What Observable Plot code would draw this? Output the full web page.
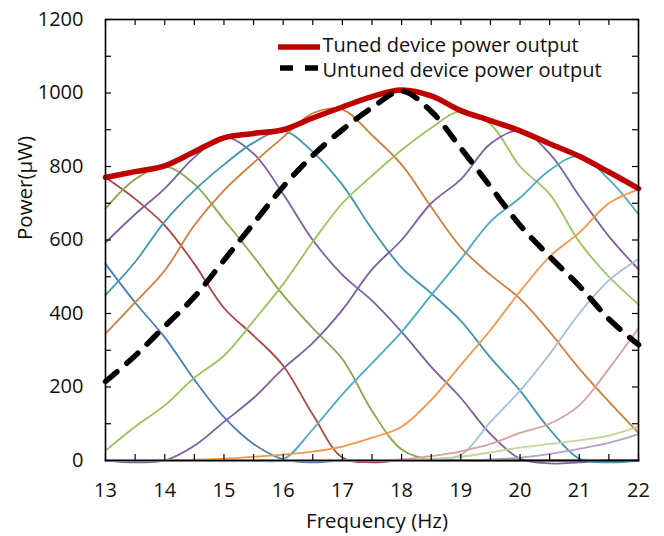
<!DOCTYPE html>
<html>
<head>
<meta charset="utf-8">
<script src="https://cdn.jsdelivr.net/npm/d3@7"></script>
<script src="https://cdn.jsdelivr.net/npm/@observablehq/plot@0.6"></script>
<style>
  html, body { margin: 0; padding: 0; background: #fff; }
  #chart { width: 664px; height: 536px; position: relative; }
</style>
</head>
<body>
<div id="chart"></div>
<script>
// Frequencies (Hz)
const freq = [13, 13.5, 14, 14.5, 15, 15.5, 16, 16.5, 17, 17.5, 18, 18.5, 19, 19.5, 20, 20.5, 21, 21.5, 22];

// Individual (tuned) device responses, power in µW
const devA = [535, 430, 335, 220, 118, 45, 3, -5, 0, 0, 0, 0, 0, 0, 0, 0, 0, 0, 0];
const devB = [770, 712, 640, 535, 415, 340, 258, 125, 8, -5, 0, 0, 0, 0, 0, 0, 0, 0, 0];
const devC = [685, 765, 800, 752, 655, 555, 450, 360, 276, 135, 30, 2, 0, 0, 0, 0, 0, 0, 0];
const devD = [593, 670, 740, 825, 880, 835, 725, 600, 505, 435, 350, 255, 170, 72, 5, -8, -5, 0, 0];
const devE = [450, 540, 650, 735, 805, 865, 897, 840, 750, 630, 525, 455, 380, 280, 190, 85, 5, -5, 0];
const devF = [345, 430, 517, 640, 735, 810, 880, 945, 955, 885, 805, 690, 580, 505, 440, 350, 250, 160, 75];
const devG = [27, 92, 150, 225, 285, 380, 480, 595, 700, 775, 845, 905, 950, 915, 800, 725, 595, 500, 425];
const devH = [0, -5, 0, 40, 105, 170, 250, 320, 410, 520, 600, 700, 765, 862, 898, 835, 720, 610, 520];
const devI = [0, 0, 0, 0, 0, 0, 3, 85, 180, 265, 350, 450, 548, 650, 715, 790, 828, 765, 670];
const devJ = [0, 0, 0, 2, 5, 10, 16, 24, 38, 62, 92, 165, 260, 355, 460, 555, 620, 700, 738];
const devK = [0, 0, 0, 0, 0, 0, 0, 0, 0, 0, 0, 2, 15, 105, 190, 290, 400, 490, 548];
const devL = [0, 0, 0, 0, 0, 0, 0, 0, 0, 0, 3, 12, 25, 45, 75, 100, 150, 250, 360];
const devM = [0, 0, 0, 0, 0, 0, 0, 0, 0, 0, 0, 5, 10, 22, 35, 45, 55, 68, 92];
const devN = [0, 0, 0, 0, 0, 0, 0, 0, 0, 0, 0, 0, 0, 3, 8, 18, 32, 48, 72];

// Envelope (tuned) and untuned device
const tuned   = [770, 786, 802, 840, 878, 890, 900, 932, 962, 990, 1008, 992, 952, 925, 897, 862, 828, 785, 740];
const untuned = [215, 285, 365, 445, 545, 645, 745, 830, 900, 960, 1005, 950, 850, 745, 640, 555, 475, 385, 315];

const deviceSeries = [devA, devB, devC, devD, devE, devF, devG, devH, devI, devJ, devK, devL, devM, devN];
const deviceColors = ["#4A7EBB", "#AE4744", "#8AA84C", "#7D60A0", "#3F97B3", "#D2803C", "#9BC45A",
                      "#7D60A0", "#4BACC6", "#F79646", "#A3BDDE", "#D9A09E", "#C3D69B", "#B3A2C7"];

const xTickLabels = [13, 14, 15, 16, 17, 18, 19, 20, 21, 22];
const xTickMarks = [13, 13.5, 14, 14.5, 15, 15.5, 16, 16.5, 17, 17.5, 18, 18.5, 19, 19.5, 20, 20.5, 21, 21.5, 22];
const yTickLabels = [0, 200, 400, 600, 800, 1000, 1200];
const yTickMarks = [0, 100, 200, 300, 400, 500, 600, 700, 800, 900, 1000, 1100, 1200];

const legendLabels = ["Tuned device power output", "Untuned device power output"];
const xLabel = "Frequency (Hz)";
const yLabel = "Power(\u03BCW)";

const W = 664, H = 536, mL = 105, mR = 26, mT = 19, mB = 76;
const fw = W - mL - mR, fh = H - mT - mB;
const FONT = "'Open Sans', Lato, sans-serif";
const TXT = "#111";

const toRows = (vals) => freq.map((f, i) => ({f, v: vals[i]}));

const marks = [];
deviceSeries.forEach((s, i) => {
  marks.push(Plot.line(toRows(s), {x: "f", y: "v", stroke: deviceColors[i], strokeWidth: 1.8, curve: "catmull-rom"}));
});
marks.push(Plot.line(toRows(tuned), {x: "f", y: "v", stroke: "#C00000", strokeWidth: 5.5, curve: "catmull-rom"}));
marks.push(Plot.line(toRows(untuned), {x: "f", y: "v", stroke: "#000", strokeWidth: 5.5, strokeDasharray: "15,13", curve: "catmull-rom"}));

// frame and inward ticks
marks.push(Plot.frame({stroke: "#000", strokeWidth: 1.6}));
marks.push(Plot.ruleX(xTickMarks, {x: d => d, insetTop: fh - 6, stroke: "#000", strokeWidth: 1.2}));
marks.push(Plot.ruleX(xTickMarks, {x: d => d, insetBottom: fh - 6, stroke: "#000", strokeWidth: 1.2}));
marks.push(Plot.ruleY(yTickMarks, {y: d => d, insetRight: fw - 6, stroke: "#000", strokeWidth: 1.2}));
marks.push(Plot.ruleY(yTickMarks, {y: d => d, insetLeft: fw - 6, stroke: "#000", strokeWidth: 1.2}));

marks.push(Plot.axisX(xTickLabels, {tickSize: 0, tickPadding: 22, label: null, tickFormat: d => String(d), fontSize: 20, fill: TXT}));
marks.push(Plot.axisY(yTickLabels, {tickSize: 0, tickPadding: 22, label: null, tickFormat: d => String(d), fontSize: 20, fill: TXT}));

marks.push(Plot.text([xLabel], {frameAnchor: "bottom", dx: 5, dy: 61, text: d => d, fontSize: 20.5, fill: TXT, lineAnchor: "middle"}));
marks.push(Plot.text([yLabel], {frameAnchor: "left", dx: -80, text: d => d, rotate: -90, fontSize: 20.5, fill: TXT, lineAnchor: "middle"}));

// legend text
marks.push(Plot.text([legendLabels[0]], {frameAnchor: "top-left", dx: 322 - mL, dy: 45 - mT, text: d => d, textAnchor: "start", lineAnchor: "middle", fontSize: 20, fill: TXT}));
marks.push(Plot.text([legendLabels[1]], {frameAnchor: "top-left", dx: 322 - mL, dy: 70 - mT, text: d => d, textAnchor: "start", lineAnchor: "middle", fontSize: 20, fill: TXT}));

const chart = Plot.plot({
  width: W, height: H,
  marginLeft: mL, marginRight: mR, marginTop: mT, marginBottom: mB,
  style: {fontFamily: FONT, fontSize: "20px", background: "#fff", color: TXT},
  x: {domain: [13, 22], label: null},
  y: {domain: [0, 1200], label: null},
  marks
});

// legend line samples (drawn in pixel space)
const svg = d3.select(chart);
svg.append("line").attr("x1", 278).attr("x2", 320).attr("y1", 47).attr("y2", 47)
  .attr("stroke", "#C00000").attr("stroke-width", 5.5);
svg.append("line").attr("x1", 280).attr("x2", 320).attr("y1", 68).attr("y2", 68)
  .attr("stroke", "#000").attr("stroke-width", 5.5).attr("stroke-dasharray", "13,12");

document.getElementById("chart").appendChild(chart);
</script>
</body>
</html>
